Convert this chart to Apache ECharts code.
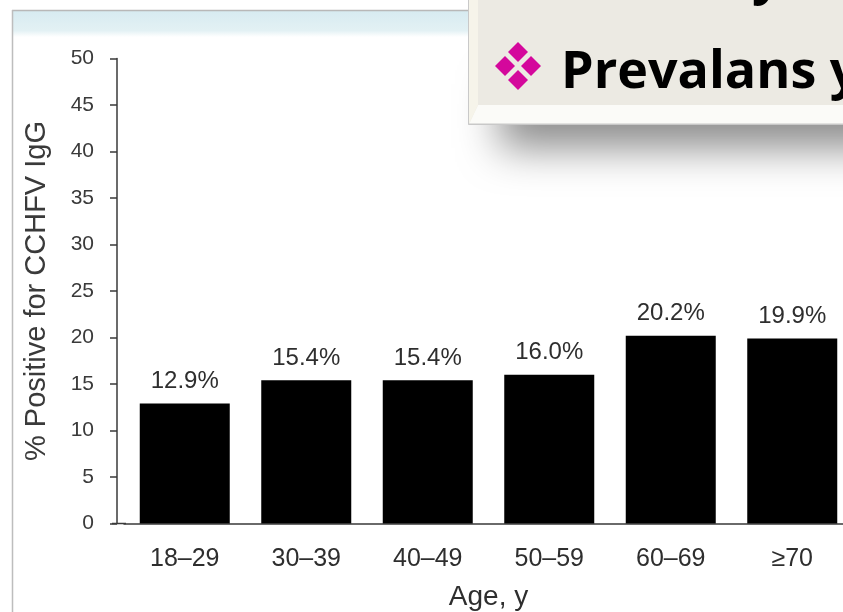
<!DOCTYPE html>
<html>
<head>
<meta charset="utf-8">
<script src="https://cdn.jsdelivr.net/npm/echarts@6/dist/echarts.min.js"></script>
<style>
html,body{margin:0;padding:0;background:#fff;}
#chart{width:843px;height:612px;}
</style>
</head>
<body>
<div id="chart"></div>
<script>
// ---- data ----
const categories = ['18–29', '30–39', '40–49', '50–59', '60–69', '≥70'];
const positivePct = [12.9, 15.4, 15.4, 16.0, 20.2, 19.9];
const yAxisMin = 0, yAxisMax = 50, yAxisStep = 5;
const yAxisTitle = '% Positive for CCHFV IgG';
const xAxisTitle = 'Age, y';
const slideHeading = 'Prevalans y';

const FONT = '"Liberation Sans", Arial, Helvetica, sans-serif';
const HEAD_FONT = 'bold 52px "Open Sans", Lato, sans-serif';
const chart = echarts.init(document.getElementById('chart'), null, {renderer: 'canvas'});

function diamond(cx, cy, r) {
  return {type: 'polygon', shape: {points: [[cx, cy - r], [cx + r, cy], [cx, cy + r], [cx - r, cy]]},
    style: {fill: '#D4089C'}, z: 110};
}

chart.setOption({
  backgroundColor: '#ffffff',
  animation: false,
  grid: {left: 124, top: 58.5, bottom: 88.5, width: 729, containLabel: false, outerBoundsMode: 'none'},
  xAxis: {
    type: 'category',
    data: categories,
    axisLine: {lineStyle: {color: '#3a3a3a', width: 1.5}},
    axisTick: {show: false},
    axisLabel: {color: '#2e2e2e', fontSize: 25, fontFamily: FONT, margin: 23},
    name: xAxisTitle,
    nameLocation: 'middle',
    nameGap: 60,
    nameTextStyle: {color: '#2e2e2e', fontSize: 28, fontFamily: FONT}
  },
  yAxis: {
    type: 'value',
    min: yAxisMin, max: yAxisMax, interval: yAxisStep,
    offset: 7,
    splitLine: {show: false},
    axisLine: {show: true, lineStyle: {color: '#3a3a3a', width: 1.5}},
    axisTick: {show: true, length: 7, inside: false, lineStyle: {color: '#3a3a3a', width: 1.5}},
    axisLabel: {color: '#3a3a3a', fontSize: 21, fontFamily: FONT, margin: 23},
    name: yAxisTitle,
    nameLocation: 'middle',
    nameGap: 66,
    nameRotate: 90,
    nameTextStyle: {color: '#3a3a3a', fontSize: 29, fontFamily: FONT}
  },
  series: [{
    type: 'bar',
    data: positivePct,
    barWidth: 90,
    itemStyle: {color: '#000000'},
    label: {
      show: true, position: 'top', distance: 10,
      color: '#2e2e2e', fontSize: 24, fontFamily: FONT,
      formatter: p => p.value.toFixed(1) + '%'
    }
  }]
});

// axis-line stub left of the y axis (decoration, position from the axis scale)
const zeroY = chart.convertToPixel({yAxisIndex: 0}, 0);

chart.setOption({
  graphic: [
    // slide frame
    {type: 'rect', shape: {x: 13, y: 11, width: 460, height: 26},
      style: {fill: new echarts.graphic.LinearGradient(0, 0, 0, 1, [
        {offset: 0, color: '#D7EBF1'}, {offset: 0.75, color: '#E3F1F4'}, {offset: 1, color: '#FFFFFF'}])}, z: 1, silent: true},
    {type: 'line', shape: {x1: 12, y1: 10.5, x2: 470, y2: 10.5}, style: {stroke: '#B8B8B8', lineWidth: 1.5}, z: 2},
    {type: 'line', shape: {x1: 12.5, y1: 10, x2: 12.5, y2: 612}, style: {stroke: '#BDBDBD', lineWidth: 1.5}, z: 2},
    {type: 'line', shape: {x1: 112, y1: zeroY, x2: 126, y2: zeroY}, style: {stroke: '#3a3a3a', lineWidth: 1.5}, z: 5},
    // shadow of the overlay panel
    {type: 'rect', shape: {x: 500, y: 60, width: 420, height: 64},
      style: {fill: '#a0a0a0', shadowBlur: 40, shadowColor: 'rgba(0,0,0,0.45)', shadowOffsetY: 24, shadowOffsetX: 0}, z: 100},
    // overlay panel
    {type: 'rect', shape: {x: 468.5, y: -20, width: 420, height: 144.5},
      style: {fill: '#ECEAE3', stroke: '#C6C6C6', lineWidth: 1}, z: 101},
    {type: 'polygon', shape: {points: [[469, 124], [478, 105], [900, 105], [900, 124]]},
      style: {fill: '#FBFBF8'}, z: 102},
    {type: 'polygon', shape: {points: [[469, -20], [478, -20], [478, 105], [469, 124]]},
      style: {fill: '#F6F4EA'}, z: 102},
    {type: 'line', shape: {x1: 468.5, y1: 124, x2: 900, y2: 124}, style: {stroke: '#C9C9C9', lineWidth: 1}, z: 103},
    {type: 'line', shape: {x1: 468.5, y1: -20, x2: 468.5, y2: 124}, style: {stroke: '#C9C9C9', lineWidth: 1}, z: 103},
    diamond(518, 52, 10), diamond(505, 66, 10), diamond(531, 66, 10), diamond(518, 80, 10),
    {type: 'text', x: 561, y: 47,
      style: {text: slideHeading, font: HEAD_FONT, fill: '#000'}, z: 110},
    {type: 'text', x: 752, y: -48,
      style: {text: 'y', font: HEAD_FONT, fill: '#000'}, z: 110}
  ]
});
</script>
</body>
</html>
